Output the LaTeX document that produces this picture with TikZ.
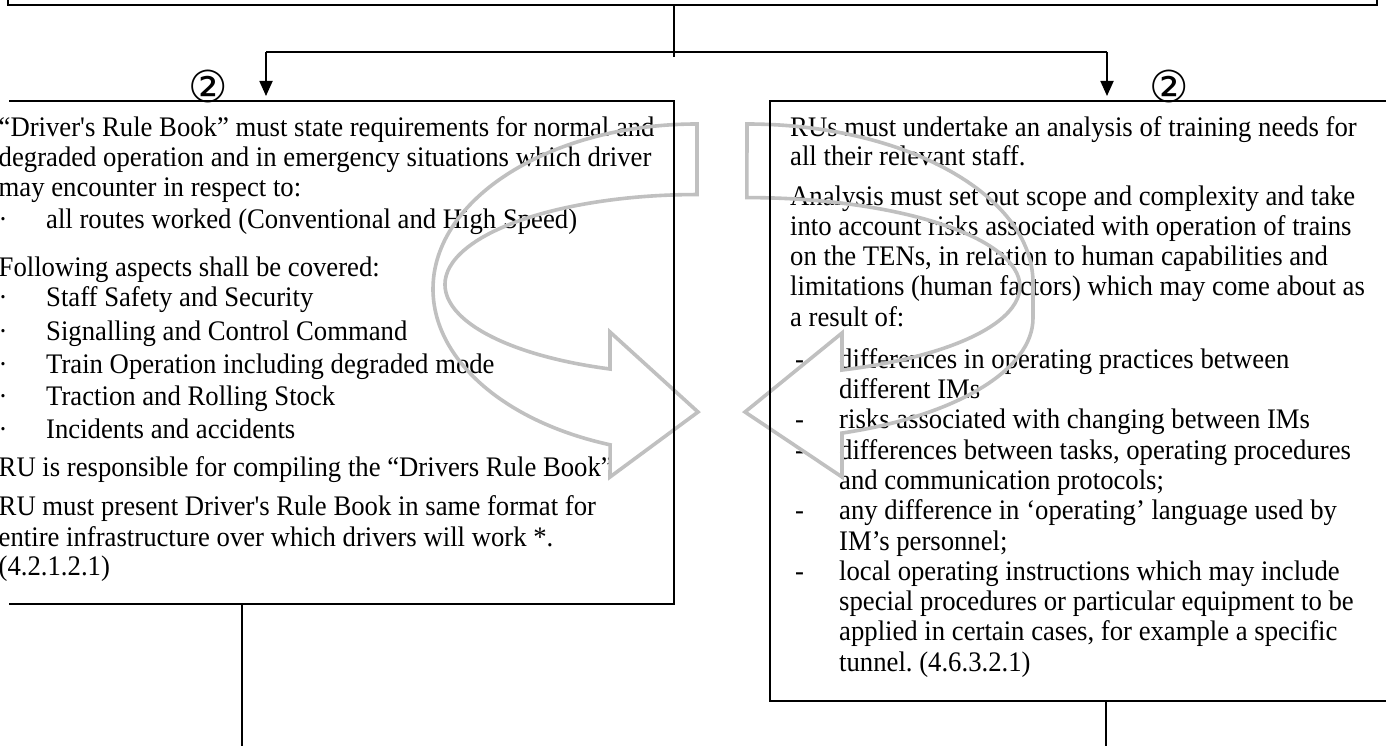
\documentclass[tikz,border=0pt]{standalone}
\usepackage{fontspec}
\setmainfont{Liberation Serif}[Ligatures=TeXOff]
\newfontfamily\dejavu{DejaVu Sans}
\usetikzlibrary{arrows.meta}
\frenchspacing
\definecolor{arrgray}{RGB}{192,192,192}
\newcommand{\stx}[1]{\scalebox{1}[1.06]{#1}}
\tikzset{
  txt/.style={anchor=base west, inner sep=0pt, font=\fontsize{26.7}{30}\selectfont},
  boxline/.style={line width=2.2pt, black},
  conn/.style={line width=1.8pt, black},
  arr/.style={conn, -{Triangle[width=13pt,length=15pt]}},
  garrow/.style={draw=arrgray, line width=3.6pt, line join=miter},
  circnum/.style={font=\dejavu\fontsize{44}{44}\selectfont, inner sep=0pt}
}
\begin{document}
\begin{tikzpicture}[x=1pt,y=-1pt]
\useasboundingbox (0,0) rectangle (1386,746);
\clip (0,0) rectangle (1386,746);
\fill[white] (0,0) rectangle (1386,746);

% ---- left box text
\node[txt] (l1) at (-1.5,136.5) {\stx{“Driver's Rule Book” must state requirements for normal and}};
\node[txt] (l2) at (-1.5,166.5) {\stx{degraded operation and in emergency situations which driver}};
\node[txt] (l3) at (-1.5,196.5) {\stx{may encounter in respect to:}};
\node[txt] (b4) at (-1.5,228.5) {\stx{·}};
\node[txt] (l4) at (46,228.5) {\stx{all routes worked (Conventional and High Speed)}};
\node[txt] (l5) at (-1.5,276.5) {\stx{Following aspects shall be covered:}};
\node[txt] (b6) at (-1.5,306.5) {\stx{·}};
\node[txt] (l6) at (46,306.5) {\stx{Staff Safety and Security}};
\node[txt] (b7) at (-1.5,340.5) {\stx{·}};
\node[txt] (l7) at (46,340.5) {\stx{Signalling and Control Command}};
\node[txt] (b8) at (-1.5,373.5) {\stx{·}};
\node[txt] (l8) at (46,373.5) {\stx{Train Operation including degraded mode}};
\node[txt] (b9) at (-1.5,405.5) {\stx{·}};
\node[txt] (l9) at (46,405.5) {\stx{Traction and Rolling Stock}};
\node[txt] (b10) at (-1.5,438.5) {\stx{·}};
\node[txt] (l10) at (46,438.5) {\stx{Incidents and accidents}};
\node[txt] (l11) at (-1.5,476.5) {\stx{RU is responsible for compiling the “Drivers Rule Book”}};
\node[txt] (l12) at (-1.5,515.5) {\stx{RU must present Driver's Rule Book in same format for}};
\node[txt] (l13) at (-1.5,546.5) {\stx{entire infrastructure over which drivers will work *.}};
\node[txt] (l14) at (-1.5,575.5) {\stx{(4.2.1.2.1)}};

% ---- right box text
\node[txt] (r1) at (790,136.5) {\stx{RUs must undertake an analysis of training needs for}};
\node[txt] (r2) at (790,165.5) {\stx{all their relevant staff.}};
\node[txt] (r3) at (790,205.5) {\stx{Analysis must set out scope and complexity and take}};
\node[txt] (r4) at (790,235.5) {\stx{into account risks associated with operation of trains}};
\node[txt] (r5) at (790,265.5) {\stx{on the TENs, in relation to human capabilities and}};
\node[txt] (r6) at (790,295.5) {\stx{limitations (human factors) which may come about as}};
\node[txt] (r7) at (790,326) {\stx{a result of:}};
\node[txt] (d8) at (795,368) {\stx{-}};
\node[txt] (r8) at (839,368) {\stx{differences in operating practices between}};
\node[txt] (r9) at (839,398) {\stx{different IMs}};
\node[txt] (d10) at (795,428.5) {\stx{-}};
\node[txt] (r10) at (839,428.5) {\stx{risks associated with changing between IMs}};
\node[txt] (d11) at (795,459) {\stx{-}};
\node[txt] (r11) at (839,459) {\stx{differences between tasks, operating procedures}};
\node[txt] (r12) at (839,489) {\stx{and communication protocols;}};
\node[txt] (d13) at (795,519.5) {\stx{-}};
\node[txt] (r13) at (839,519.5) {\stx{any difference in ‘operating’ language used by}};
\node[txt] (r14) at (839,550) {\stx{IM’s personnel;}};
\node[txt] (d15) at (795,580) {\stx{-}};
\node[txt] (r15) at (839,580) {\stx{local operating instructions which may include}};
\node[txt] (r16) at (839,610) {\stx{special procedures or particular equipment to be}};
\node[txt] (r17) at (839,640.5) {\stx{applied in certain cases, for example a specific}};
\node[txt] (r18) at (839,671) {\stx{tunnel. (4.6.3.2.1)}};

% ---- circled labels
\node[circnum] (c1) at (208,86) {②};
\node[circnum] (c2) at (1169,86) {②};

% ---- gray curved arrows
\draw[garrow] (697,124) arc[start angle=90,end angle=250.8,x radius=264pt,y radius=165pt]
  -- (610,477) -- (698,412) -- (610,332) -- (610,369)
  arc[start angle=249.8,end angle=90,x radius=252pt,y radius=90pt] -- cycle;
\draw[garrow] (747,124) arc[start angle=90,end angle=0,x radius=286pt,y radius=159pt]
  -- (1033,318) arc[start angle=0,end angle=-70.6,x radius=286pt,y radius=122pt]
  -- (842,477) -- (745,412) -- (842,333) -- (842,370)
  arc[start angle=-69.6,end angle=90,x radius=273pt,y radius=89pt] -- cycle;

% ---- box outlines
\coordinate (TBl) at (8,5);
\coordinate (TBr) at (1377,5);
\coordinate (TBc) at (674,5);
\draw[boxline] (8,-5) -- (TBl) -- (TBr) -- (1377,-5);
\coordinate (LBtl) at (9,101);
\coordinate (LBtr) at (674,101);
\coordinate (LBbr) at (674,604);
\coordinate (LBbl) at (9,604);
\draw[boxline] (LBtl) -- (LBtr) -- (LBbr) -- (LBbl);
\coordinate (RBtl) at (770,101);
\coordinate (RBbl) at (770,701);
\draw[boxline] (1392,101) -- (RBtl) -- (RBbl) -- (1392,701);

% ---- connectors
\coordinate (J) at (674,52);
\coordinate (Jend) at (674,57);
\coordinate (JL) at (266,52);
\coordinate (JR) at (1107,52);
\coordinate (LIn) at (266,96);
\coordinate (RIn) at (1107,96);
\draw[conn] (TBc) -- (Jend);
\draw[conn] (JL) -- (JR);
\draw[arr] (JL) -- (LIn);
\draw[arr] (JR) -- (RIn);
\coordinate (LOut) at (242,604);
\coordinate (LOutEnd) at (242,746);
\coordinate (ROut) at (1106,701);
\coordinate (ROutEnd) at (1106,746);
\draw[conn] (LOut) -- (LOutEnd);
\draw[conn] (ROut) -- (ROutEnd);
\end{tikzpicture}
\end{document}
